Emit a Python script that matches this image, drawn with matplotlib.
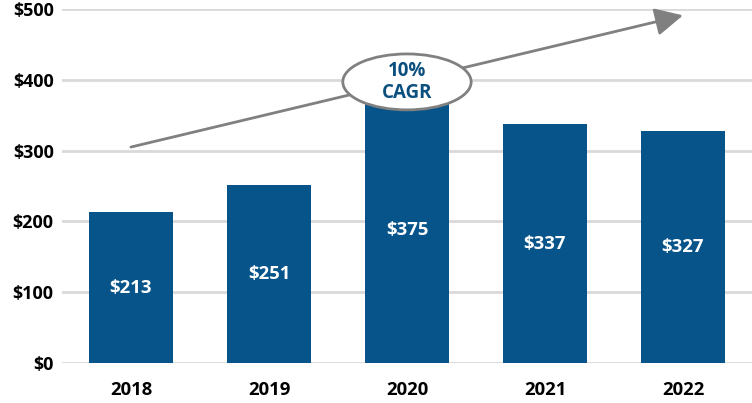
import matplotlib.pyplot as plt
from matplotlib.patches import Ellipse

years = ['2018', '2019', '2020', '2021', '2022']
revenue = [213, 251, 375, 337, 327]
labels = ['$213', '$251', '$375', '$337', '$327']
yticks = [0, 100, 200, 300, 400, 500]
cagr_text = '10%\nCAGR'

plt.rcParams['font.family'] = ['Open Sans', 'DejaVu Sans']
blue = '#06548A'
gray = '#808080'

fig = plt.figure(figsize=(7.52, 4.03), dpi=100)
ax = fig.add_axes([0.0824, 0.0993, 0.9176, 0.8784])

x = list(range(len(years)))
ax.bar(x, revenue, width=0.615, color=blue, zorder=2)
for xi, v, lab in zip(x, revenue, labels):
    ax.text(xi, v / 2, lab, ha='center', va='center', color='white',
            fontsize=13.3, fontweight='bold', zorder=3)

ax.set_xlim(-0.5, 4.5)
ax.set_ylim(0, 500)
ax.set_yticks(yticks)
ax.set_yticklabels(['$' + str(t) for t in yticks], fontsize=13, fontweight='bold')
ax.set_xticks(x)
ax.set_xticklabels(years, fontsize=13.3, fontweight='bold')
ax.tick_params(length=0, pad=6)
ax.tick_params(axis='x', pad=13)
ax.yaxis.grid(True, color='#D9D9D9', linewidth=2, zorder=0)
for s in ax.spines.values():
    s.set_visible(False)
ax.set_axisbelow(True)

# growth arrow
ax.annotate('', xy=(4.0, 491), xytext=(0.0, 305),
            arrowprops=dict(arrowstyle='-|>,head_length=1.7,head_width=0.85',
                            color=gray, lw=2, shrinkA=0, shrinkB=0),
            zorder=4, annotation_clip=False)

ell = Ellipse((2.0, 397), width=0.93, height=79, facecolor='white',
              edgecolor=gray, linewidth=2, zorder=5)
ax.add_patch(ell)
ax.text(2.0, 397, cagr_text, ha='center', va='center', color='#0B4F7F',
        fontsize=13.5, fontweight='bold', zorder=6, linespacing=1.1)

fig.savefig('out.png', dpi=100)
